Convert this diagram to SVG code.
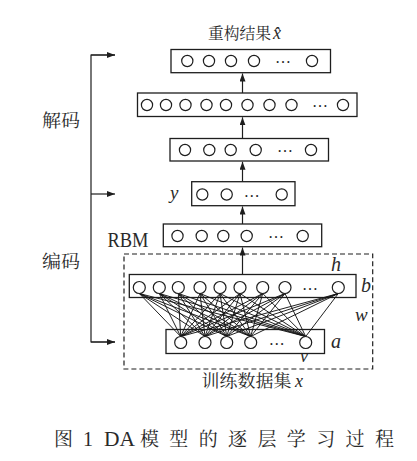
<svg xmlns="http://www.w3.org/2000/svg" width="417" height="461" viewBox="0 0 417 461">
<style>
.box{fill:none;stroke:#1e1e1e;stroke-width:1.3}
.n{fill:#fff;stroke:#1e1e1e;stroke-width:1.2}
.ln{stroke:#1e1e1e;stroke-width:1.2;fill:none}
.mesh line{stroke:#151515;stroke-width:0.95}
.dash{fill:none;stroke:#1e1e1e;stroke-width:1.2;stroke-dasharray:5 3}
.cjk{font-family:"Noto Serif CJK SC","Liberation Serif","Noto Sans CJK SC",serif;fill:#2a2a2a}
.it{font-family:"Liberation Serif",serif;font-style:italic;fill:#2a2a2a}
.rm{font-family:"Liberation Serif",serif;fill:#2a2a2a}
.dots{font-family:"Liberation Serif",serif;font-size:16px;fill:#1e1e1e;text-anchor:middle}
</style>
<defs>
<marker id="ah" markerUnits="userSpaceOnUse" markerWidth="9" markerHeight="7" refX="8" refY="3" orient="auto">
<path d="M0,0 L8,3 L0,6 z" fill="#1e1e1e"/>
</marker>
</defs>
<rect width="417" height="461" fill="#fff"/>

<g id="title">
<text class="cjk" x="208" y="39" font-size="15.5" textLength="63" lengthAdjust="spacingAndGlyphs">重构结果</text>
<text class="it" x="273" y="39" font-size="18">x̂</text>
</g>

<g id="layer-out">
<rect class="box" x="171" y="49.5" width="159.5" height="23.2"/>
<circle class="n" cx="187.3" cy="61" r="5.6"/><circle class="n" cx="209" cy="61" r="5.6"/><circle class="n" cx="231" cy="61" r="5.6"/><circle class="n" cx="254" cy="61" r="5.6"/>
<text class="dots" x="283" y="63">…</text>
<circle class="n" cx="312" cy="61" r="5.6"/>
</g>

<g id="layer-dec2">
<rect class="box" x="137.5" y="93" width="219.5" height="23.5"/>
<circle class="n" cx="147" cy="105" r="5.6"/><circle class="n" cx="166" cy="105" r="5.6"/><circle class="n" cx="185.5" cy="105" r="5.6"/><circle class="n" cx="206.5" cy="105" r="5.6"/><circle class="n" cx="226" cy="105" r="5.6"/><circle class="n" cx="247.5" cy="105" r="5.6"/><circle class="n" cx="269.5" cy="105" r="5.6"/><circle class="n" cx="291.5" cy="105" r="5.6"/>
<text class="dots" x="320" y="107">…</text>
<circle class="n" cx="343" cy="105" r="5.6"/>
</g>

<g id="layer-dec1">
<rect class="box" x="170" y="138.5" width="158.5" height="22.5"/>
<circle class="n" cx="185" cy="150" r="5.6"/><circle class="n" cx="209.3" cy="150" r="5.6"/><circle class="n" cx="230.7" cy="150" r="5.6"/><circle class="n" cx="255.7" cy="150" r="5.6"/>
<text class="dots" x="285" y="152">…</text>
<circle class="n" cx="311" cy="150" r="5.6"/>
</g>

<g id="layer-y">
<rect class="box" x="191.7" y="181.7" width="103.3" height="24"/>
<circle class="n" cx="202.3" cy="194.5" r="5.6"/><circle class="n" cx="226.7" cy="194.5" r="5.6"/>
<text class="dots" x="251.7" y="196.5">…</text>
<circle class="n" cx="281.7" cy="194.5" r="5.6"/>
<text class="it" x="170" y="199" font-size="19">y</text>
</g>

<g id="layer-rbm">
<rect class="box" x="163.3" y="224" width="158.4" height="22.7"/>
<circle class="n" cx="177.5" cy="236" r="5.6"/><circle class="n" cx="201.7" cy="236" r="5.6"/><circle class="n" cx="223.3" cy="236" r="5.6"/><circle class="n" cx="246.7" cy="236" r="5.6"/>
<text class="dots" x="276" y="238">…</text>
<circle class="n" cx="302.7" cy="236" r="5.6"/>
<text class="rm" x="107.5" y="246.5" font-size="21" textLength="41" lengthAdjust="spacingAndGlyphs">RBM</text>
</g>

<g id="rbm-block">
<rect class="dash" x="124" y="254" width="248.7" height="115"/>
<text class="cjk" x="201.5" y="386.5" font-size="17" textLength="90" lengthAdjust="spacingAndGlyphs">训练数据集</text>
<text class="it" x="295" y="386.5" font-size="18">x</text>
<text class="it" x="331" y="348" font-size="20">a</text>
<text class="it" x="300" y="361.5" font-size="18">v</text>
<text class="it" x="355" y="321" font-size="19">w</text>
<text class="it" x="361" y="292" font-size="20">b</text>
<text class="it" x="331" y="271" font-size="20">h</text>
</g>

<g id="layer-h">
<rect class="box" x="129.3" y="274.5" width="226.7" height="23"/>
</g>

<g id="layer-v">
<rect class="box" x="166" y="329.5" width="158.5" height="24"/>
</g>

<g id="connectors">
<g class="mesh">
<line x1="139.3" y1="293.5" x2="180.7" y2="336.5"/><line x1="139.3" y1="293.5" x2="205" y2="336.5"/><line x1="139.3" y1="293.5" x2="226.7" y2="336.5"/><line x1="139.3" y1="293.5" x2="250.7" y2="336.5"/><line x1="139.3" y1="293.5" x2="305.7" y2="336.5"/>
<line x1="159.3" y1="293.5" x2="180.7" y2="336.5"/><line x1="159.3" y1="293.5" x2="205" y2="336.5"/><line x1="159.3" y1="293.5" x2="226.7" y2="336.5"/><line x1="159.3" y1="293.5" x2="250.7" y2="336.5"/><line x1="159.3" y1="293.5" x2="305.7" y2="336.5"/>
<line x1="178.3" y1="293.5" x2="180.7" y2="336.5"/><line x1="178.3" y1="293.5" x2="205" y2="336.5"/><line x1="178.3" y1="293.5" x2="226.7" y2="336.5"/><line x1="178.3" y1="293.5" x2="250.7" y2="336.5"/><line x1="178.3" y1="293.5" x2="305.7" y2="336.5"/>
<line x1="200" y1="293.5" x2="180.7" y2="336.5"/><line x1="200" y1="293.5" x2="205" y2="336.5"/><line x1="200" y1="293.5" x2="226.7" y2="336.5"/><line x1="200" y1="293.5" x2="250.7" y2="336.5"/><line x1="200" y1="293.5" x2="305.7" y2="336.5"/>
<line x1="220" y1="293.5" x2="180.7" y2="336.5"/><line x1="220" y1="293.5" x2="205" y2="336.5"/><line x1="220" y1="293.5" x2="226.7" y2="336.5"/><line x1="220" y1="293.5" x2="250.7" y2="336.5"/><line x1="220" y1="293.5" x2="305.7" y2="336.5"/>
<line x1="240" y1="293.5" x2="180.7" y2="336.5"/><line x1="240" y1="293.5" x2="205" y2="336.5"/><line x1="240" y1="293.5" x2="226.7" y2="336.5"/><line x1="240" y1="293.5" x2="250.7" y2="336.5"/><line x1="240" y1="293.5" x2="305.7" y2="336.5"/>
<line x1="262.7" y1="293.5" x2="180.7" y2="336.5"/><line x1="262.7" y1="293.5" x2="205" y2="336.5"/><line x1="262.7" y1="293.5" x2="226.7" y2="336.5"/><line x1="262.7" y1="293.5" x2="250.7" y2="336.5"/><line x1="262.7" y1="293.5" x2="305.7" y2="336.5"/>
<line x1="285" y1="293.5" x2="180.7" y2="336.5"/><line x1="285" y1="293.5" x2="205" y2="336.5"/><line x1="285" y1="293.5" x2="226.7" y2="336.5"/><line x1="285" y1="293.5" x2="250.7" y2="336.5"/><line x1="285" y1="293.5" x2="305.7" y2="336.5"/>
<line x1="338.3" y1="293.5" x2="180.7" y2="336.5"/><line x1="338.3" y1="293.5" x2="205" y2="336.5"/><line x1="338.3" y1="293.5" x2="226.7" y2="336.5"/><line x1="338.3" y1="293.5" x2="250.7" y2="336.5"/><line x1="338.3" y1="293.5" x2="305.7" y2="336.5"/>
</g>
<line class="ln" x1="242.5" y1="93" x2="242.5" y2="73.5" marker-end="url(#ah)"/>
<line class="ln" x1="242.5" y1="138.5" x2="242.5" y2="117.3" marker-end="url(#ah)"/>
<line class="ln" x1="242.5" y1="181.7" x2="242.5" y2="161.8" marker-end="url(#ah)"/>
<line class="ln" x1="242.5" y1="224" x2="242.5" y2="206.5" marker-end="url(#ah)"/>
<line class="ln" x1="242.5" y1="274.5" x2="242.5" y2="247.5" marker-end="url(#ah)"/>
<polyline class="ln" points="115,55 91,55 91,342 115,342" />
<line class="ln" x1="91" y1="55" x2="115" y2="55" marker-end="url(#ah)"/>
<line class="ln" x1="91" y1="194" x2="115" y2="194" marker-end="url(#ah)"/>
<line class="ln" x1="91" y1="342" x2="115" y2="342" marker-end="url(#ah)"/>
</g>

<g id="h-nodes">
<circle class="n" cx="139.3" cy="287.5" r="6"/><circle class="n" cx="159.3" cy="287.5" r="6"/><circle class="n" cx="178.3" cy="287.5" r="6"/><circle class="n" cx="200" cy="287.5" r="6"/><circle class="n" cx="220" cy="287.5" r="6"/><circle class="n" cx="240" cy="287.5" r="6"/><circle class="n" cx="262.7" cy="287.5" r="6"/><circle class="n" cx="285" cy="287.5" r="6"/>
<text class="dots" x="310" y="289.5">…</text>
<circle class="n" cx="338.3" cy="287.5" r="6"/>
</g>

<g id="v-nodes">
<circle class="n" cx="180.7" cy="342.5" r="6"/><circle class="n" cx="205" cy="342.5" r="6"/><circle class="n" cx="226.7" cy="342.5" r="6"/><circle class="n" cx="250.7" cy="342.5" r="6"/>
<text class="dots" x="276.7" y="344.5">…</text>
<circle class="n" cx="305.7" cy="342.5" r="6"/>
</g>

<g id="side-labels">
<text class="cjk" x="42" y="126.5" font-size="18" textLength="38" lengthAdjust="spacingAndGlyphs">解码</text>
<text class="cjk" x="42" y="268" font-size="18" textLength="38" lengthAdjust="spacingAndGlyphs">编码</text>
</g>

<g id="caption">
<text class="cjk" x="54" y="446" font-size="19">图</text>
<text class="rm" x="83" y="446" font-size="20">1</text>
<text class="rm" x="104" y="446" font-size="20" textLength="31" lengthAdjust="spacingAndGlyphs">DA</text>
<text class="cjk" x="140" y="446" font-size="19" textLength="254" lengthAdjust="spacing">模型的逐层学习过程</text>
</g>
</svg>
